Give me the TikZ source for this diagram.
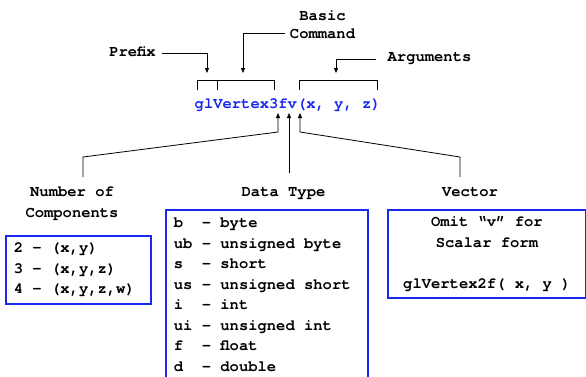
\documentclass[tikz,border=0pt]{standalone}
\usepackage{fontspec}
\newfontfamily\codefont{texgyrecursor-bold.otf}[WordSpace={1,0,0}]
\newcommand\codetext{\codefont\fontsize{15.5}{20.5}\selectfont}
% fixed, full-cell spaces for the monospaced lists
\newcommand\cellspaces{\spaceskip=9.3pt\xspaceskip=9.3pt\relax}
\usetikzlibrary{arrows.meta}
\definecolor{cmdblue}{RGB}{25,40,240}
\begin{document}
\begin{tikzpicture}[x=1pt,y=-1pt,
  txt/.style={font=\codetext, inner sep=0pt},
  lbl/.style={txt, anchor=base},
  lead/.style={draw=black, line width=0.8pt},
  arr/.style={lead, -{Triangle[length=5pt,width=4pt]}},
  brk/.style={draw=black, line width=0.9pt},
  box/.style={txt, draw=cmdblue, line width=1.8pt, anchor=north west}
]
\path[use as bounding box] (0,0) rectangle (586,376);
\clip (0,0) rectangle (586,376);

% the command itself
\node[txt, text=cmdblue, anchor=base west] (cmd) at (194.5,108) {glVertex3fv(x, y, z)};

% labels above
\node[lbl] (prefix) at (132.5,56) {Prefix};
\node[lbl] (basic) at (322.5,20) {Basic};
\node[lbl] (command) at (322.5,38) {Command};
\node[lbl] (args) at (429.5,61) {Arguments};

% labels below
\node[lbl] (ncomp1) at (72,196) {Number of};
\node[lbl] (ncomp2) at (72,217) {Components};
\node[lbl] (dtype) at (283.5,196) {Data Type};
\node[lbl] (vector) at (470,196) {Vector};

% brackets over the parts of the name
\draw[brk] (197,90) -- (197,80) -- (274,80) -- (274,90);
\draw[brk] (217,80) -- (217,90);
\draw[brk] (299,90) -- (299,80) -- (377,80) -- (377,90);

% leaders from the upper labels
\coordinate (pfxtip) at (207,73);
\coordinate (cmdtip) at (243,73);
\coordinate (argtip) at (336,73);
\draw[arr] ([xshift=6pt,yshift=-2pt]prefix.east) -| (pfxtip);
\draw[arr] ([xshift=-5pt]command.west) -| (cmdtip);
\draw[arr] ([xshift=-11pt,yshift=-1.5pt]args.west) -| (argtip);

% pointers from the lower labels
\coordinate (tipn) at (278,113);
\coordinate (tipf) at (289,113);
\coordinate (tipv) at (300,113);
\coordinate (ncfoot) at (83,177);
\coordinate (dtfoot) at (289,173);
\coordinate (vfoot) at (460,177);
\draw[arr] (ncfoot) -- (83,157) -- (278,132) -- (tipn);
\draw[arr] (dtfoot) -- (tipf);
\draw[arr] (vfoot) -- (460,157) -- (300,132) -- (tipv);

% boxes
\node[box, align=flush left, text width=129pt, inner xsep=8pt, minimum height=68pt]
  (ncbox) at (5,235) {\cellspaces 2 – (x,y)\\3 – (x,y,z)\\4 – (x,y,z,w)};
\node[box, align=flush left, text width=186pt, inner xsep=8pt, inner ysep=8pt]
  (dtbox) at (165,209) {\cellspaces b~~– byte\\ub – unsigned byte\\s~~– short\\us – unsigned short\\i~~– int\\ui – unsigned int\\f~~– float\\d~~– double};
\node[box, align=center, minimum width=198pt, minimum height=88pt]
  (vbox) at (387,209) {Omit “v” for\\Scalar form\\\mbox{}\\glVertex2f( x, y )};
\end{tikzpicture}
\end{document}
